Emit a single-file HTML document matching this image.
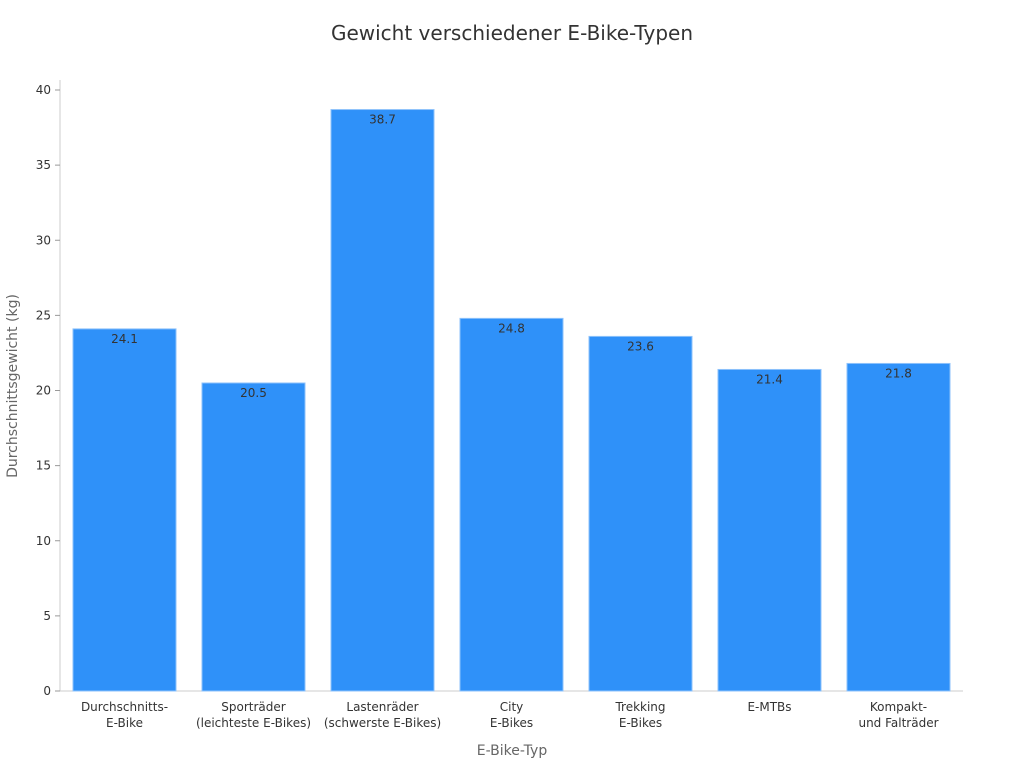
<!DOCTYPE html>
<html><head><meta charset="utf-8"><style>
body{margin:0;background:#fff;font-family:"Liberation Sans","DejaVu Sans",sans-serif;}
</style></head><body>
<svg id="chart" width="1024" height="768" xmlns="http://www.w3.org/2000/svg" font-family="DejaVu Sans, Liberation Sans, sans-serif">
<text x="512" y="40" text-anchor="middle" font-size="20" fill="#333">Gewicht verschiedener E-Bike-Typen</text>
<text transform="translate(17,386) rotate(-90)" text-anchor="middle" font-size="14" fill="#666">Durchschnittsgewicht (kg)</text>
<text x="512" y="755" text-anchor="middle" font-size="14" fill="#666">E-Bike-Typ</text>
<g id="plot"></g>
</svg>
<script>
const categories=[["Durchschnitts-","E-Bike"],["Sporträder","(leichteste E-Bikes)"],["Lastenräder","(schwerste E-Bikes)"],["City","E-Bikes"],["Trekking","E-Bikes"],["E-MTBs"],["Kompakt-","und Falträder"]];
const weights=[24.1,20.5,38.7,24.8,23.6,21.4,21.8];
const yTicks=[0,5,10,15,20,25,30,35,40];
const X0=60,X1=963,Y0=691,Y40=90;
const y=v=>Y0-(Y0-Y40)*v/40;
const band=(X1-X0)/categories.length;
const x=i=>X0+band*i;
const NS="http://www.w3.org/2000/svg";
const g=document.getElementById('plot');
function mk(t,a){const e=document.createElementNS(NS,t);for(const k in a)e.setAttribute(k,a[k]);g.appendChild(e);return e;}
let ax=mk('line',{x1:X0,y1:80,x2:X0,y2:Y0,stroke:'#ccc'});


let bx=mk('line',{x1:X0,y1:Y0,x2:X1,y2:Y0,stroke:'#ccc'});


yTicks.forEach(t=>{
 const tk=mk('line',{x1:X0-5,y1:y(t),x2:X0,y2:y(t),stroke:'#999'});
 
 
 const tl=mk('text',{x:X0-9,y:y(t)+4,'text-anchor':'end','font-size':12,fill:'#333'});
 tl.textContent=t;
 
 
});
weights.forEach((v,i)=>{
 const cx=x(i)+band/2,w=103;
 const r=mk('rect',{x:cx-w/2,y:y(v),width:w,height:Y0-y(v),fill:'#2f91f9',stroke:'#8ec2fb','stroke-width':1});
 
 
 const vl=mk('text',{x:cx,y:y(v)+14,'text-anchor':'middle','font-size':12,fill:'#333'});
 vl.textContent=v.toFixed(1);
 
 
 categories[i].forEach((ln,j)=>{
  const cl=mk('text',{x:cx,y:711+j*16,'text-anchor':'middle','font-size':12,fill:'#333'});
  cl.textContent=ln;
  
  
 });
});
</script>
</body></html>
